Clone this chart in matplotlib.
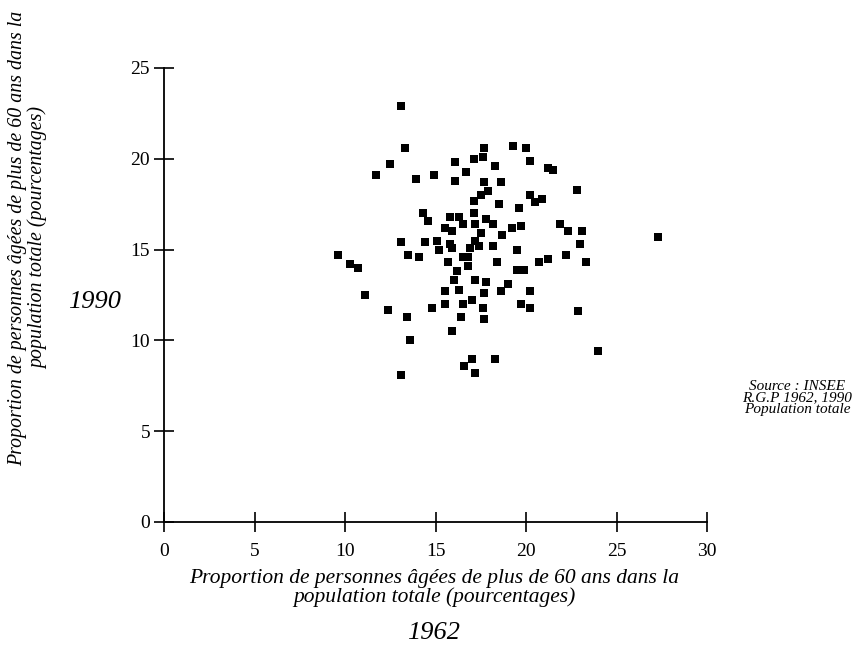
import numpy as np
import matplotlib
matplotlib.use("Agg")
import matplotlib.pyplot as plt

# -------------------------------
# Data: share of people aged 60+ (%), 1962 vs 1990
# -------------------------------
pct_1962 = [13.1, 13.3, 12.5, 11.7, 13.9, 14.9, 16.1, 16.1, 16.7, 17.1,
            17.6, 17.7, 18.3, 19.3, 20.0, 20.2, 21.5, 21.2, 17.7, 18.6,
            17.9, 17.5, 17.1, 18.5, 19.6, 22.8, 20.2, 20.9, 20.5, 14.3,
            14.6, 15.8, 16.3, 17.1, 17.8, 16.5, 17.2, 18.2, 19.2, 19.7,
            15.5, 15.9, 17.5, 18.7, 21.9, 22.3, 23.1, 23.0, 22.2, 23.3,
            27.3, 13.1, 14.4, 15.1, 15.8, 17.2, 15.2, 15.9, 17.4, 16.9,
            18.2, 19.5, 9.6, 10.3, 10.7, 13.5, 14.1, 16.5, 16.8, 15.7,
            16.8, 16.2, 18.4, 19.5, 19.9, 20.7, 21.2, 16.0, 17.2, 17.8,
            19.0, 15.5, 16.3, 17.7, 18.6, 20.2, 19.7, 20.2, 22.9, 11.1,
            12.4, 13.4, 14.8, 15.5, 16.5, 17.0, 17.6, 16.4, 17.7, 15.9,
            13.6, 17.0, 18.3, 16.6, 17.2, 13.1, 24.0]

pct_1990 = [22.9, 20.6, 19.7, 19.1, 18.9, 19.1, 18.8, 19.8, 19.3, 20.0,
            20.1, 20.6, 19.6, 20.7, 20.6, 19.9, 19.4, 19.5, 18.7, 18.7,
            18.2, 18.0, 17.7, 17.5, 17.3, 18.3, 18.0, 17.8, 17.6, 17.0,
            16.6, 16.8, 16.8, 17.0, 16.7, 16.4, 16.4, 16.4, 16.2, 16.3,
            16.2, 16.0, 15.9, 15.8, 16.4, 16.0, 16.0, 15.3, 14.7, 14.3,
            15.7, 15.4, 15.4, 15.5, 15.3, 15.5, 15.0, 15.1, 15.2, 15.1,
            15.2, 15.0, 14.7, 14.2, 14.0, 14.7, 14.6, 14.6, 14.6, 14.3,
            14.1, 13.8, 14.3, 13.9, 13.9, 14.3, 14.5, 13.3, 13.3, 13.2,
            13.1, 12.7, 12.8, 12.6, 12.7, 12.7, 12.0, 11.8, 11.6, 12.5,
            11.7, 11.3, 11.8, 12.0, 12.0, 12.2, 11.8, 11.3, 11.2, 10.5,
            10.0, 9.0, 9.0, 8.6, 8.2, 8.1, 9.4]

x_ticks = [0, 5, 10, 15, 20, 25, 30]
y_ticks = [0, 5, 10, 15, 20, 25]

label_text = "Proportion de personnes âgées de plus de 60 ans dans la\npopulation totale (pourcentages)"
source_text = "Source : INSEE\nR.G.P 1962, 1990\nPopulation totale"

# -------------------------------
# Figure
# -------------------------------
plt.rcParams['font.family'] = ['Liberation Serif', 'DejaVu Serif']

fig = plt.figure(figsize=(8.64, 6.65), dpi=100)
ax = fig.add_axes([164 / 864, 1 - 522 / 665, 543 / 864, 454 / 665])

ax.scatter(pct_1962, pct_1990, marker='s', s=26, color='black',
           linewidths=0, clip_on=False)

ax.set_xlim(0, 30)
ax.set_ylim(0, 25)
ax.set_xticks(x_ticks)
ax.set_yticks(y_ticks)
ax.spines['top'].set_visible(False)
ax.spines['right'].set_visible(False)
for s in ['left', 'bottom']:
    ax.spines[s].set_linewidth(1.3)
ax.tick_params(axis='both', direction='inout', length=14, width=1.2,
               labelsize=14)
ax.tick_params(axis='x', pad=8)
ax.tick_params(axis='y', pad=3)

# axis titles
fig.text(434 / 864, 1 - 588 / 665, label_text, ha='center', va='center',
         style='italic', fontsize=15.5, linespacing=0.95)
fig.text(434 / 864, 1 - 633 / 665, "1962", ha='center', va='center',
         style='italic', fontsize=19)
fig.text(28 / 864, 1 - 238 / 665, label_text, ha='center', va='center',
         style='italic', fontsize=14.3, rotation=90, linespacing=1.05)
fig.text(95 / 864, 1 - 302 / 665, "1990", ha='center', va='center',
         style='italic', fontsize=19)
fig.text(797 / 864, 1 - 398 / 665, source_text, ha='center', va='center',
         style='italic', fontsize=11, linespacing=0.85)

fig.savefig("out.png", dpi=100)
